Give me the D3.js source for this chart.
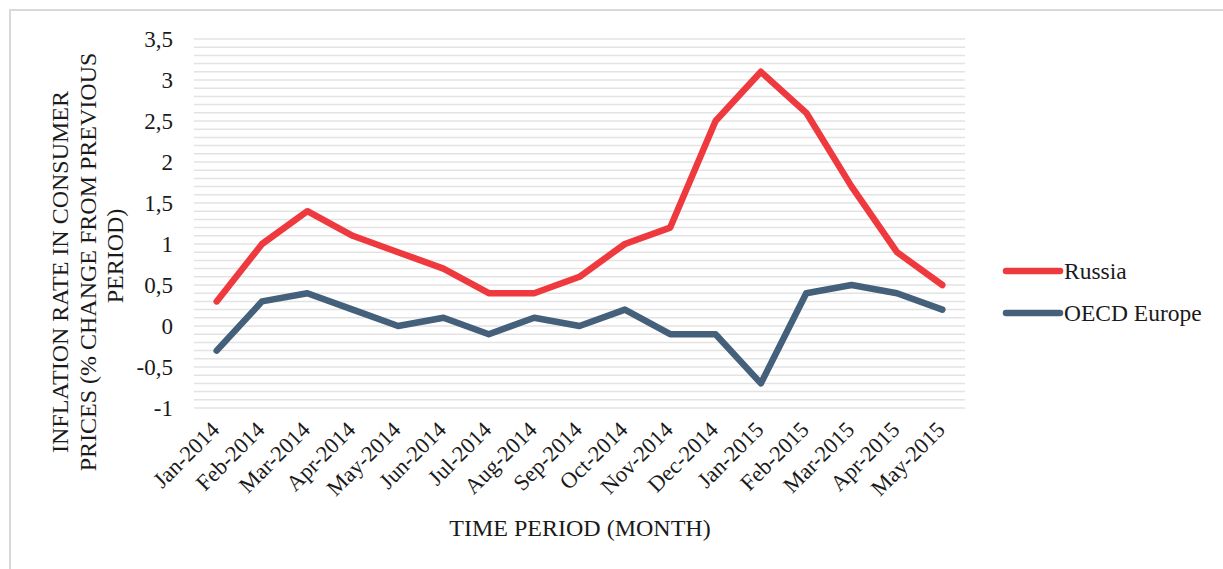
<!DOCTYPE html>
<html><head><meta charset="utf-8">
<script src="https://cdn.jsdelivr.net/npm/d3@7"></script>
<style>body{margin:0;background:#fff;} text{font-family:"Liberation Serif","Times New Roman",serif;fill:#1a1a1a;}</style>
</head><body>
<svg id="c" width="1223" height="569"></svg>
<script>
const months = ["Jan-2014","Feb-2014","Mar-2014","Apr-2014","May-2014","Jun-2014","Jul-2014","Aug-2014","Sep-2014","Oct-2014","Nov-2014","Dec-2014","Jan-2015","Feb-2015","Mar-2015","Apr-2015","May-2015"];
const russia = [0.3,1.0,1.4,1.1,0.9,0.7,0.4,0.4,0.6,1.0,1.2,2.5,3.1,2.6,1.7,0.9,0.5];
const oecd = [-0.3,0.3,0.4,0.2,0.0,0.1,-0.1,0.1,0.0,0.2,-0.1,-0.1,-0.7,0.4,0.5,0.4,0.2];
const yTicks = [-1,-0.5,0,0.5,1,1.5,2,2.5,3,3.5];
const seriesNames = ["Russia","OECD Europe"];
const yTitleLines = ["INFLATION RATE IN CONSUMER","PRICES (% CHANGE FROM PREVIOUS","PERIOD)"];
const colors = ["#EE3A3F","#44607A"];

const svg = d3.select("#c");
svg.append("rect").attr("x",10).attr("y",10).attr("width",1240).attr("height",600)
  .attr("fill","none").attr("stroke","#d9d9d9").attr("stroke-width",2);

const x = d3.scaleBand().domain(months).range([194,965]);
const y = d3.scaleLinear().domain([-1,3.5]).range([408,39]);
const cx = d => x(d)+x.bandwidth()/2;

// minor gridlines every 0.1
const grid = d3.range(-10,36).map(v=>v/10);
svg.append("g").selectAll("line").data(grid).join("line")
  .attr("x1",194).attr("x2",965).attr("y1",d=>y(d)).attr("y2",d=>y(d))
  .attr("stroke","#e3e3e3").attr("stroke-width",1.5);

// y axis
const yAxis = d3.axisLeft(y).tickValues(yTicks).tickSize(0).tickPadding(0)
  .tickFormat(d=>String(d).replace(".",","));
const gy = svg.append("g").attr("transform","translate(173,0)").call(yAxis);
gy.select(".domain").remove();
gy.selectAll("text").attr("font-size",23).attr("font-family","Liberation Serif").attr("fill","#1a1a1a").attr("dy","0.33em");

// x axis
const xAxis = d3.axisBottom(x).tickSize(0).tickPadding(0);
const gx = svg.append("g").attr("transform","translate(0,408)").call(xAxis);
gx.select(".domain").remove();
gx.selectAll("text").attr("font-size",22.5).attr("font-family","Liberation Serif").attr("fill","#1a1a1a")
  .attr("text-anchor","end").attr("dy",null).attr("y",0)
  .attr("transform","translate(4,23) rotate(-45)");

// lines
const line = d3.line().x((d,i)=>cx(months[i])).y(d=>y(d));
[russia,oecd].forEach((s,i)=>{
  svg.append("path").datum(s).attr("d",line).attr("fill","none")
    .attr("stroke",colors[i]).attr("stroke-width",6.5).attr("stroke-linejoin","round").attr("stroke-linecap","round");
});

// legend
const lg = svg.append("g");
seriesNames.forEach((n,i)=>{
  const yy = 271 + i*42;
  lg.append("line").attr("x1",1006).attr("x2",1060).attr("y1",yy).attr("y2",yy)
    .attr("stroke",colors[i]).attr("stroke-width",6.5).attr("stroke-linecap","round");
  lg.append("text").attr("x",1064).attr("y",yy+8).attr("font-size",23.5).text(n);
});

// axis titles
const yt = svg.append("text").attr("transform","rotate(-90)").attr("text-anchor","middle").attr("font-size",24);
const yCenters = [272,262,256];
yTitleLines.forEach((t,i)=>{
  yt.append("tspan").attr("x",-yCenters[i]).attr("y",68+i*27.5).text(t);
});
svg.append("text").attr("x",580).attr("y",536).attr("text-anchor","middle").attr("font-size",24).text("TIME PERIOD (MONTH)");
</script>
</body></html>
